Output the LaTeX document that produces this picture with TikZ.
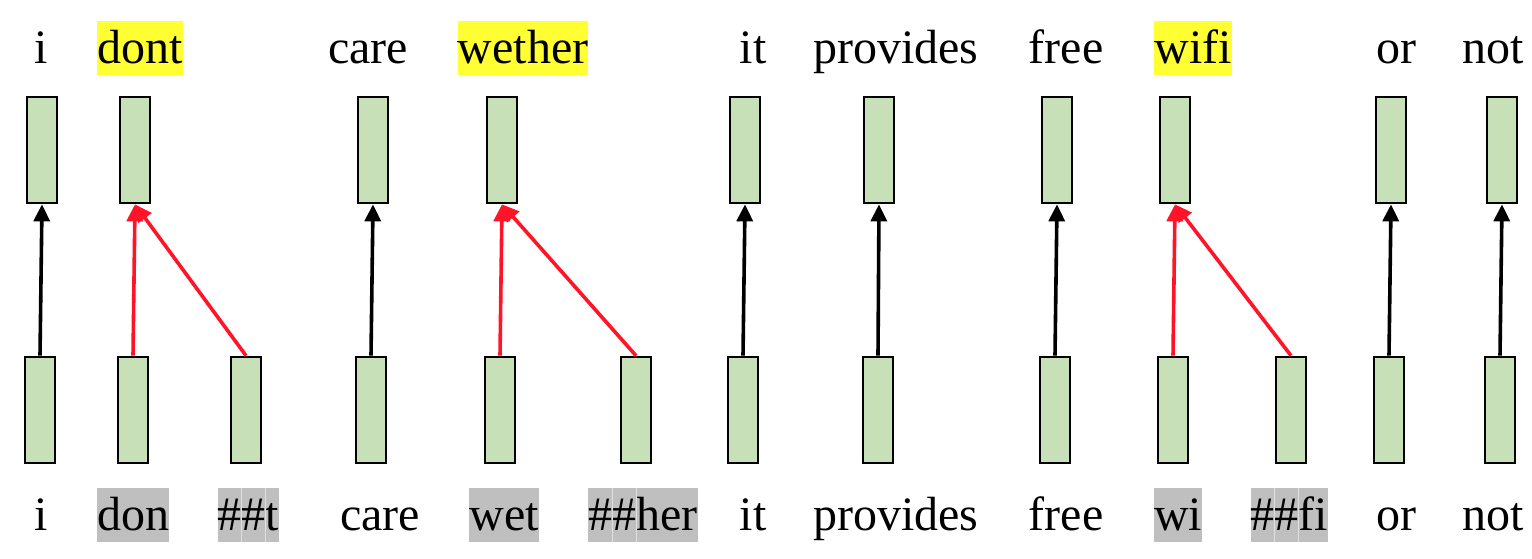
\documentclass[tikz,border=0pt]{standalone}
\usepackage{fontspec}
\setmainfont{Liberation Serif}
\usetikzlibrary{arrows.meta,calc}
\definecolor{boxgreen}{HTML}{C8E0B8}
\definecolor{hlyellow}{HTML}{FFFF33}
\definecolor{hlgrey}{HTML}{BFBFBF}
\definecolor{arrred}{HTML}{FF1428}
\tikzset{
  word/.style={anchor=base,inner xsep=0pt,inner ysep=0pt,text height=42pt,text depth=12pt,
    font=\fontsize{48}{54}\selectfont},
  yhl/.style={word,fill=hlyellow},
  ghl/.style={word,fill=hlgrey},
  vec/.style={draw=black,line width=2.7pt,fill=boxgreen,minimum width=30pt,minimum height=106pt,inner sep=0pt},
  link/.style={line width=3.6pt,-{Triangle[length=17pt,width=16pt]}},
  plainlink/.style={link,draw=black},
  mergelink/.style={link,draw=arrred},
  sep/.style={draw=white!88!black,line width=0.8pt}
}
\begin{document}
\begin{tikzpicture}[x=1pt,y=-1pt]
\useasboundingbox (0,0) rectangle (1532,558);
% top words
\node[word] (tw1) at (41,63) {i};
\node[yhl]  (tw2) at (140,63) {dont};
\node[word] (tw3) at (368,63) {care};
\node[yhl]  (tw4) at (523,63) {wether};
\node[word] (tw5) at (753,63) {it};
\node[word] (tw6) at (896,63) {provides};
\node[word] (tw7) at (1066,63) {free};
\node[yhl]  (tw8) at (1193,63) {wifi};
\node[word] (tw9) at (1396,63) {or};
\node[word] (tw10) at (1493,63) {not};
% top vectors
\node[vec] (t1) at (42,150) {};
\node[vec] (t2) at (135,150) {};
\node[vec] (t3) at (373,150) {};
\node[vec] (t4) at (502,150) {};
\node[vec] (t5) at (745,150) {};
\node[vec] (t6) at (879,150) {};
\node[vec] (t7) at (1057,150) {};
\node[vec] (t8) at (1175,150) {};
\node[vec] (t9) at (1391,150) {};
\node[vec] (t10) at (1502,150) {};
% bottom vectors
\node[vec] (b1) at (40,410) {};
\node[vec] (b2) at (133,410) {};
\node[vec] (b3) at (246,410) {};
\node[vec] (b4) at (371,410) {};
\node[vec] (b5) at (500,410) {};
\node[vec] (b6) at (636,410) {};
\node[vec] (b7) at (743,410) {};
\node[vec] (b8) at (878,410) {};
\node[vec] (b9) at (1055,410) {};
\node[vec] (b10) at (1173,410) {};
\node[vec] (b11) at (1291,410) {};
\node[vec] (b12) at (1389,410) {};
\node[vec] (b13) at (1500,410) {};
% bottom words
\node[word] (bw1) at (41,530) {i};
\node[ghl]  (bw2) at (133,530) {don};
\node[ghl]  (bw3) at (248.5,530) {\#\#t};
\node[word] (bw4) at (380,530) {care};
\node[ghl]  (bw5) at (504,530) {wet};
\node[ghl]  (bw6) at (643,530) {\#\#her};
\node[word] (bw7) at (753,530) {it};
\node[word] (bw8) at (896,530) {provides};
\node[word] (bw9) at (1066,530) {free};
\node[ghl]  (bw10) at (1178,530) {wi};
\node[ghl]  (bw11) at (1289.5,530) {\#\#fi};
\node[word] (bw12) at (1396,530) {or};
\node[word] (bw13) at (1493,530) {not};
% faint character seams in grey highlights
\foreach \n in {bw3,bw6,bw11}{
  \draw[sep] ($(\n.north west)+(24,0)$) -- ($(\n.south west)+(24,0)$);
  \draw[sep] ($(\n.north west)+(48,0)$) -- ($(\n.south west)+(48,0)$);
}
% connectors
\draw[plainlink] (b1.north) -- (t1.south);
\draw[mergelink] (b2.north) -- (t2.south);
\draw[mergelink] (b3.north) -- (t2.south);
\draw[plainlink] (b4.north) -- (t3.south);
\draw[mergelink] (b5.north) -- (t4.south);
\draw[mergelink] (b6.north) -- (t4.south);
\draw[plainlink] (b7.north) -- (t5.south);
\draw[plainlink] (b8.north) -- (t6.south);
\draw[plainlink] (b9.north) -- (t7.south);
\draw[mergelink] (b10.north) -- (t8.south);
\draw[mergelink] (b11.north) -- (t8.south);
\draw[plainlink] (b12.north) -- (t9.south);
\draw[plainlink] (b13.north) -- (t10.south);
\end{tikzpicture}
\end{document}
